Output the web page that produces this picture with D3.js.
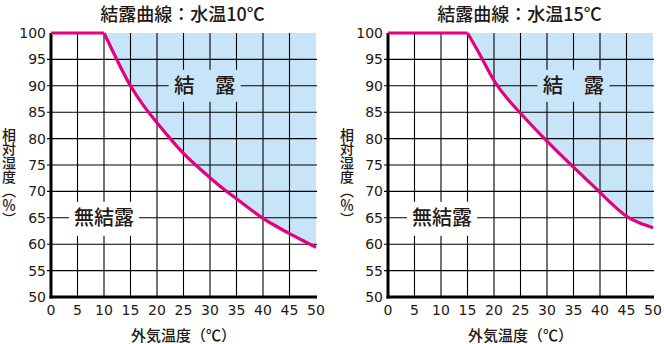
<!DOCTYPE html>
<html><head><meta charset="utf-8">
<script src="https://cdn.jsdelivr.net/npm/d3@7"></script>
<style>body{margin:0;background:#fff}svg{display:block}</style>
</head><body>
<script>
const xTicks = [0, 5, 10, 15, 20, 25, 30, 35, 40, 45, 50];
const yTicks = [50, 55, 60, 65, 70, 75, 80, 85, 90, 95, 100];
const titles = ["結露曲線：水温10℃", "結露曲線：水温15℃"];
const waterTemps = [10, 15];
const temps10 = [0, 10, 12.5, 15, 17.5, 20, 22.5, 25, 27.5, 30, 32.5, 35, 37.5, 40, 42.5, 45, 47.5, 50];
const rh10    = [100, 100, 94.8, 90, 86.2, 83.0, 80, 77.2, 74.8, 72.6, 70.5, 68.6, 66.7, 64.9, 63.4, 62.0, 60.7, 59.4];
const temps15 = [0, 15, 17.5, 20, 22.5, 25, 27.5, 30, 32.5, 35, 37.5, 40, 42.5, 45, 47.5, 50];
const rh15    = [100, 100, 95.6, 91, 87.6, 84.8, 82.1, 79.5, 77.0, 74.6, 72.2, 69.8, 67.4, 65.3, 64.0, 63.1];
const xTitle = "外気温度（℃）";
const yTitle = "相対湿度（％）";
const dewLabel = "結　露";
const dryLabel = "無結露";

const W = 664, H = 344;
const INK = "#231815", PINK = "#e4007f", BLUE = "#c8e4f8";
const CJK = "'Noto Sans CJK JP', 'Noto Sans', sans-serif";
const NUM = "'DejaVu Sans', sans-serif";

const svg = d3.select("body").append("svg").attr("width", W).attr("height", H);

const panels = [
  {x0: 51, x1: 316, temps: temps10, rh: rh10, title: titles[0], water: waterTemps[0], dew: [29, 90], dry: [10, 65], ytx: 9},
  {x0: 388, x1: 653, temps: temps15, rh: rh15, title: titles[1], water: waterTemps[1], dew: [35, 90], dry: [10.2, 65], ytx: 347}
];

panels.forEach(p => {
  const x = d3.scaleLinear().domain([0, 50]).range([p.x0, p.x1]);
  const y = d3.scaleLinear().domain([50, 100]).range([297, 33]);
  const g = svg.append("g");
  const pts = p.temps.map((t, i) => [t, p.rh[i]]);
  const curvePts = pts.filter(d => d[0] >= p.water);

  // dew zone fill
  g.append("path")
    .attr("d", d3.area().x(d => x(d[0])).y0(y(100)).y1(d => y(d[1])).curve(d3.curveNatural)(curvePts))
    .attr("fill", BLUE);

  // vertical grid
  g.selectAll(".vg").data(xTicks.filter(v => v > 0 && v < 50)).join("line")
    .attr("x1", d => x(d)).attr("x2", d => x(d))
    .attr("y1", y(100)).attr("y2", y(50))
    .attr("stroke", "#000").attr("stroke-width", 1.1);
  // horizontal grid
  g.selectAll(".hg").data(yTicks.filter(v => v > 50 && v < 100)).join("line")
    .attr("x1", x(0) - 4).attr("x2", x(50) + 1)
    .attr("y1", d => y(d)).attr("y2", d => y(d))
    .attr("stroke", "#000").attr("stroke-width", 1.1);

  // zone labels with knock-out boxes
  const dx = x(p.dew[0]), dy = y(p.dew[1]);
  g.append("rect").attr("x", dx - 36).attr("y", dy - 16).attr("width", 72).attr("height", 32).attr("fill", BLUE);
  g.append("text").attr("x", dx).attr("y", dy).attr("dy", "0.36em")
    .attr("text-anchor", "middle").attr("font-family", CJK).attr("font-size", 20.5).attr("font-weight", 500)
    .attr("fill", INK).text(dewLabel);
  const nx = x(p.dry[0]), ny = y(p.dry[1]);
  g.append("rect").attr("x", nx - 35).attr("y", ny - 16).attr("width", 70).attr("height", 34).attr("fill", "#fff");
  g.append("text").attr("x", nx).attr("y", ny).attr("dy", "0.38em")
    .attr("text-anchor", "middle").attr("font-family", CJK).attr("font-size", 20).attr("font-weight", 500)
    .attr("fill", INK).text(dryLabel);

  // axes (thick)
  g.append("line").attr("x1", x(0)).attr("x2", x(0)).attr("y1", y(100)).attr("y2", y(50) + 1.5)
    .attr("stroke", "#000").attr("stroke-width", 3);
  g.append("line").attr("x1", x(0) - 1.5).attr("x2", x(50) + 1).attr("y1", y(50)).attr("y2", y(50))
    .attr("stroke", "#000").attr("stroke-width", 3);

  // curve: flat part + dew curve
  g.append("path")
    .attr("d", d3.line().x(d => x(d[0])).y(d => y(d[1]))(pts.filter(d => d[0] <= p.water)))
    .attr("fill", "none").attr("stroke", PINK).attr("stroke-width", 3.2);
  g.append("path")
    .attr("d", d3.line().x(d => x(d[0])).y(d => y(d[1])).curve(d3.curveNatural)(curvePts))
    .attr("fill", "none").attr("stroke", PINK).attr("stroke-width", 3.2).attr("stroke-linejoin", "round");

  // tick labels
  g.selectAll(".yl").data(yTicks).join("text")
    .attr("x", x(0) - 5).attr("y", d => y(d)).attr("dy", "0.36em")
    .attr("text-anchor", "end").attr("font-family", NUM).attr("font-size", 14).attr("fill", INK)
    .text(d => d);
  g.selectAll(".xl").data(xTicks).join("text")
    .attr("x", d => x(d)).attr("y", 315)
    .attr("text-anchor", "middle").attr("font-family", NUM).attr("font-size", 14).attr("fill", INK)
    .text(d => d);

  // titles
  g.append("text").attr("x", (p.x0 + p.x1) / 2 - 1).attr("y", 21)
    .attr("text-anchor", "middle").attr("font-family", CJK).attr("font-size", 18).attr("font-weight", 500)
    .attr("fill", INK).text(p.title);
  g.append("text").attr("x", (p.x0 + p.x1) / 2).attr("y", 341)
    .attr("text-anchor", "middle").attr("font-family", CJK).attr("font-size", 15).attr("font-weight", 500)
    .attr("fill", INK).text(xTitle);
  g.append("text").attr("x", p.ytx).attr("y", 128)
    .style("writing-mode", "vertical-rl")
    .attr("font-family", CJK).attr("font-size", 14).attr("font-weight", 500)
    .attr("fill", INK).text(yTitle);
});
</script>
</body></html>
